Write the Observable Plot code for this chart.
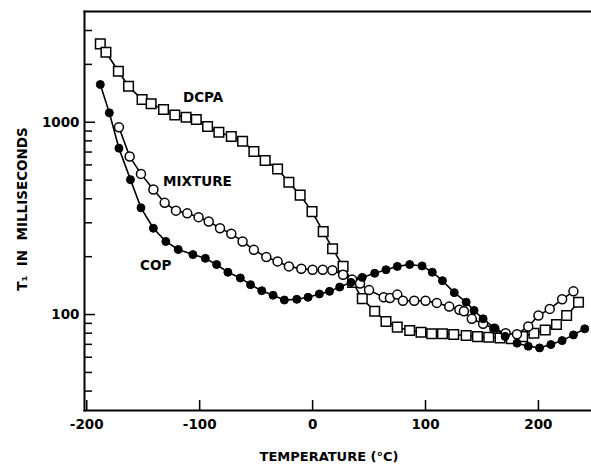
<!DOCTYPE html>
<html>
<head>
<meta charset="utf-8">
<script src="https://cdn.jsdelivr.net/npm/d3@7"></script>
<script src="https://cdn.jsdelivr.net/npm/@observablehq/plot@0.6"></script>
<style>
  html, body { margin: 0; padding: 0; background: #fff; }
  svg { display: block; }
</style>
</head>
<body>
<div id="chart"></div>
<script>
// ---- data ----
const copT = [-188,-180,-171.5,-161.3,-152,-141,-130,-119,-106,-95,-85,-75,-64,-55,-45,-35,-25,-14,-4,6,15,24,34,44,55,65,75,86,97,106,115,125.5,136,143,151,161,170.5,181,191,201,211,221,231,241];
const copV = [1571,1119,733,503,359,281,240,218,205,196,182,166,155,143,133,126,119,120,123,128,132,139,147,156,164,171,178,182,179,166,150,130,116,105,95,85,77,71,68.4,67.1,69.8,73.2,78.4,84.3];

const mixT = [-171.5,-162,-152,-141,-131,-121,-111,-101,-92,-82,-72,-62,-52,-41,-31,-21,-10,0,9,17.5,27,35,42,50,63,68.5,75,80,90,100,110,121,130,134,141,151,161,171,181,191,200,210,221,231];
const mixV = [942,663,539,447,381,347,336,321,305,281,263,240,217,199,189,178,173,171,171,170,161,152,145,134,123,122,127,118,118,118,115,110,106,104,95,89.5,84.3,80,79,86.7,98.8,107,120,132];

const dcpaT = [-188,-183,-172,-163,-151,-143,-132,-122,-112,-103,-93,-83,-72,-62,-52,-42,-31,-21,-11,-0.5,9.4,17.7,27,35.5,44,55,65,75,86,96,105.5,115,125,136,146,156,166,176,186,196,206,216,225,235.5];
const dcpaV = [2557,2312,1841,1538,1312,1247,1164,1092,1062,1033,950,887,843,797,705,632,572,488,418,343,270,220,178,147,121,104,92,86,82.6,80.9,79.4,79.4,78.7,77.8,76.8,76.2,75.6,74.8,76.8,80,83.2,88.7,98.8,115.8];

const seriesLabels = ["DCPA", "MIXTURE", "COP"];
const labelT = [-97, -102, -139];
const labelV = [1336, 491, 180];

const xTicks = [-200, -100, 0, 100, 200];
const yMajorTicks = [100, 1000];
const yMinorTicks = [40,50,60,70,80,90,200,300,400,500,600,700,800,900,2000,3000];

const xTitle = "TEMPERATURE (°C)";
const yTitle = "T\u2081  IN  MILLISECONDS";

const xDomain = [-202, 247];
const yDomain = [31.7, 3767];

// ---- build tables ----
const toRows = (T, V) => T.map((t, i) => ({t, v: V[i]}));
const cop = toRows(copT, copV);
const mix = toRows(mixT, mixV);
const dcpa = toRows(dcpaT, dcpaV);
const labels = seriesLabels.map((s, i) => ({s, t: labelT[i], v: labelV[i]}));

const W = 591, H = 464, ML = 84, MR = 0, MT = 11, MB = 54;
const innerW = W - ML - MR, innerH = H - MT - MB;
const font = "'DejaVu Sans', 'Liberation Sans', Arial, sans-serif";

const chart = Plot.plot({
  width: W,
  height: H,
  marginLeft: ML,
  marginRight: MR,
  marginTop: MT,
  marginBottom: MB,
  style: {fontFamily: font, fontWeight: "bold", background: "#fff", color: "#000"},
  x: {domain: xDomain, axis: null},
  y: {type: "log", domain: yDomain, axis: null},
  marks: [
    Plot.frame({anchor: "top", strokeWidth: 2}),
    Plot.frame({anchor: "left", strokeWidth: 2}),
    Plot.frame({anchor: "bottom", strokeWidth: 2}),
    // inward ticks
    Plot.ruleX(xTicks, {stroke: "#000", strokeWidth: 1.5, insetTop: innerH - 10}),
    Plot.ruleY(yMajorTicks, {stroke: "#000", strokeWidth: 1.5, insetRight: innerW - 11}),
    Plot.ruleY(yMinorTicks, {stroke: "#000", strokeWidth: 1.5, insetRight: innerW - 8}),
    // tick labels
    Plot.axisX(xTicks, {
      tickSize: 0, tickPadding: 9, fontSize: 13.5,
      tickFormat: d => d < 0 ? "-" + Math.abs(d) : String(d),
      label: null
    }),
    Plot.axisY(yMajorTicks, {
      tickSize: 0, tickPadding: 5, fontSize: 13.5,
      tickFormat: d => String(d),
      label: null
    }),
    // axis titles
    Plot.text([xTitle], {frameAnchor: "bottom", textAnchor: "middle", lineAnchor: "middle", dy: 46, dx: -9, fontSize: 13, fontWeight: "bold", fill: "#000"}),
    Plot.text([yTitle], {frameAnchor: "left", textAnchor: "middle", rotate: -90, dx: -62, dy: -2, fontSize: 13.5, fontWeight: "bold", fill: "#000"}),
    // data
    Plot.line(dcpa, {x: "t", y: "v", stroke: "#000", strokeWidth: 1.6}),
    Plot.line(mix, {x: "t", y: "v", stroke: "#000", strokeWidth: 1.6}),
    Plot.line(cop, {x: "t", y: "v", stroke: "#000", strokeWidth: 1.6}),
    Plot.dot(dcpa, {x: "t", y: "v", symbol: "square", r: 5.4, fill: "#fff", stroke: "#000", strokeWidth: 1.5}),
    Plot.dot(mix, {x: "t", y: "v", symbol: "circle", r: 4.5, fill: "#fff", stroke: "#000", strokeWidth: 1.5}),
    Plot.dot(cop, {x: "t", y: "v", symbol: "circle", r: 4, fill: "#000", stroke: "#000", strokeWidth: 1}),
    Plot.text(labels, {x: "t", y: "v", text: "s", fontSize: 13.5, fontWeight: "bold", fill: "#000"})
  ]
});
document.getElementById("chart").appendChild(chart);
</script>
</body>
</html>
